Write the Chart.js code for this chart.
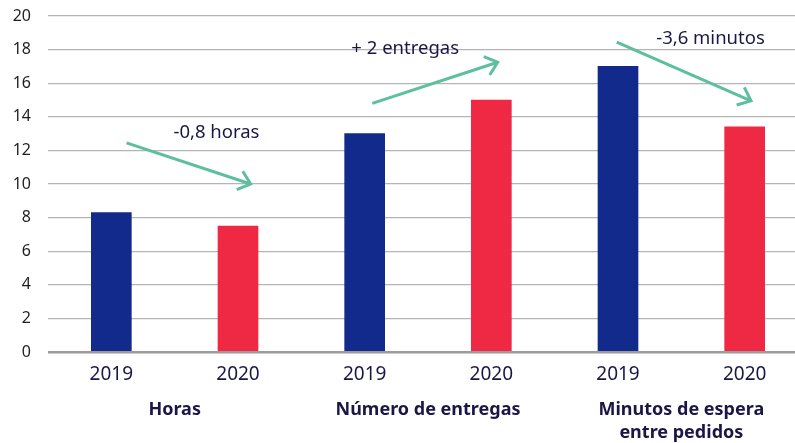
<!DOCTYPE html>
<html lang="es">
<head>
<meta charset="utf-8">
<title>Repartidores 2019 vs 2020</title>
<script src="https://cdn.jsdelivr.net/npm/chart.js@4"></script>
<style>
  html, body { margin: 0; padding: 0; background: #fff; overflow: hidden; }
  canvas { display: block; }
</style>
</head>
<body>
<canvas id="chart" width="810" height="443"></canvas>
<script>
const years = ["2019", "2020", "2019", "2020", "2019", "2020"];
const groups = [["Horas"], ["Número de entregas"], ["Minutos de espera", "entre pedidos"]];
const values = [8.3, 7.5, 13, 15, 17, 13.4];
const barColors = ["#122a8c", "#ef2944", "#122a8c", "#ef2944", "#122a8c", "#ef2944"];
const yTicks = [0, 2, 4, 6, 8, 10, 12, 14, 16, 18, 20];

// change labels with their arrows, in axis units (category index, value)
const changeNotes = [
  { text: "-0,8 horas", at: [0.83, 13.05], from: [0.12, 12.45], to: [1.1, 10.0] },
  { text: "+ 2 entregas", at: [2.32, 18.05], from: [2.06, 14.8], to: [3.05, 17.25] },
  { text: "-3,6 minutos", at: [4.73, 18.65], from: [3.99, 18.45], to: [5.05, 14.95] }
];

const navy = "#1a1747";
const green = "#5dbf9e";
const font = "'Noto Sans', 'Open Sans', sans-serif";

const groupLabels = {
  id: "groupLabels",
  afterDraw(chart) {
    const { ctx, scales: { x }, chartArea } = chart;
    ctx.save();
    ctx.fillStyle = navy;
    ctx.font = "bold 18px " + font;
    ctx.textAlign = "center";
    ctx.textBaseline = "middle";
    groups.forEach((lines, i) => {
      const cx = (x.getPixelForValue(i * 2) + x.getPixelForValue(i * 2 + 1)) / 2;
      lines.forEach((line, j) => {
        ctx.fillText(line, cx, chartArea.bottom + 58 + j * 23);
      });
    });
    ctx.restore();
  }
};

const changeArrows = {
  id: "changeArrows",
  afterDatasetsDraw(chart) {
    const { ctx, scales: { x, y } } = chart;
    ctx.save();
    changeNotes.forEach((n) => {
      const x1 = x.getPixelForValue(n.from[0]), y1 = y.getPixelForValue(n.from[1]);
      const x2 = x.getPixelForValue(n.to[0]), y2 = y.getPixelForValue(n.to[1]);
      const ang = Math.atan2(y2 - y1, x2 - x1);
      const head = 15, spread = 40 * Math.PI / 180;
      ctx.strokeStyle = green;
      ctx.lineWidth = 3;
      ctx.beginPath();
      ctx.moveTo(x1, y1);
      ctx.lineTo(x2, y2);
      ctx.moveTo(x2 - head * Math.cos(ang - spread), y2 - head * Math.sin(ang - spread));
      ctx.lineTo(x2, y2);
      ctx.lineTo(x2 - head * Math.cos(ang + spread), y2 - head * Math.sin(ang + spread));
      ctx.stroke();

      ctx.fillStyle = navy;
      ctx.font = "18.5px " + font;
      ctx.textAlign = "center";
      ctx.textBaseline = "middle";
      ctx.fillText(n.text, x.getPixelForValue(n.at[0]), y.getPixelForValue(n.at[1]));
    });
    ctx.restore();
  }
};

new Chart(document.getElementById("chart"), {
  type: "bar",
  data: {
    labels: years,
    datasets: [{
      data: values,
      backgroundColor: barColors,
      borderWidth: 0,
      barThickness: 40
    }]
  },
  options: {
    responsive: false,
    animation: false,
    layout: { padding: { top: 16, right: 2, bottom: 0, left: 0 } },
    plugins: {
      legend: { display: false },
      tooltip: { enabled: false }
    },
    scales: {
      x: {
        grid: { display: false, drawTicks: false },
        border: { display: false },
        ticks: { color: navy, font: { family: font, size: 19 }, padding: 11 },
        afterFit(scale) { scale.height = 91; }
      },
      y: {
        min: 0,
        max: 20,
        afterBuildTicks(scale) { scale.ticks = yTicks.map((v) => ({ value: v })); },
        grid: {
          drawTicks: false,
          color: (c) => (c.tick && c.tick.value === 0 ? "#9c9c9c" : "#b5b5b5"),
          lineWidth: (c) => (c.tick && c.tick.value === 0 ? 2.5 : 1.3)
        },
        border: { display: false },
        ticks: { color: "#1e1e1e", font: { family: font, size: 16 }, padding: 17 },
        afterFit(scale) {
          scale.width = 48;
          scale.paddingTop = 0;
          scale.paddingBottom = 0;
        }
      }
    }
  },
  plugins: [groupLabels, changeArrows]
});
</script>
</body>
</html>
